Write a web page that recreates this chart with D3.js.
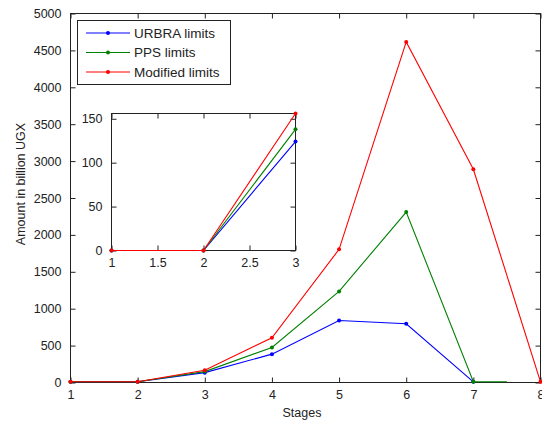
<!DOCTYPE html>
<html>
<head>
<meta charset="utf-8">
<script src="https://cdn.jsdelivr.net/npm/d3@7"></script>
<style>
  body { margin: 0; background: #fff; }
  svg { display: block; font-family: "Liberation Sans", Arial, sans-serif; }
  .tick text { fill: #222; }
</style>
</head>
<body>
<svg id="chart" width="542" height="423"></svg>
<script>
// data (billion UGX per stage), null = not plotted
const stages = [1, 2, 3, 4, 5, 6, 7, 8]
const urbra = [0, 0, 124, 375, 831, 787, 0, null]
const pps = [0, 0, 138, 465, 1225, 2300, 0, null]
const modified = [0, 0, 156, 597, 1795, 4605, 2880, 0]
const seriesNames = ["URBRA limits", "PPS limits", "Modified limits"]
const seriesColors = ["#0000ff", "#008000", "#ff0000"]
// the green trace runs on flat past stage 7 and stops halfway in the original
const ppsEnd = 7.5

const xTicks = [1, 2, 3, 4, 5, 6, 7, 8]
const yTicks = d3.range(0, 5001, 500)
const insetXTicks = [1, 1.5, 2, 2.5, 3]
const insetYTicks = [0, 50, 100, 150]

const svg = d3.select("#chart")

const toPts = vals => stages.map((s, i) => [s, vals[i]]).filter(d => d[1] !== null)
const series = [
  { name: seriesNames[0], color: seriesColors[0], pts: toPts(urbra) },
  { name: seriesNames[1], color: seriesColors[1], pts: toPts(pps).concat([[ppsEnd, 0]]) },
  { name: seriesNames[2], color: seriesColors[2], pts: toPts(modified) }
]

const drawAxes = (g, x, y, xt, yt, fmt) => {
  const [x0, x1] = x.range()
  const [y0, y1] = y.range()
  const tl = 5
  g.append("g").attr("transform", `translate(0,${y0})`)
    .call(d3.axisBottom(x).tickValues(xt).tickSize(-tl).tickPadding(8).tickFormat(fmt.x))
    .call(a => a.select(".domain").remove())
  g.append("g").attr("transform", `translate(0,${y1})`)
    .call(d3.axisTop(x).tickValues(xt).tickSize(-tl).tickFormat(""))
    .call(a => a.select(".domain").remove())
  g.append("g").attr("transform", `translate(${x0},0)`)
    .call(d3.axisLeft(y).tickValues(yt).tickSize(-tl).tickPadding(9).tickFormat(fmt.y))
    .call(a => a.select(".domain").remove())
  g.append("g").attr("transform", `translate(${x1},0)`)
    .call(d3.axisRight(y).tickValues(yt).tickSize(-tl).tickFormat(""))
    .call(a => a.select(".domain").remove())
  g.selectAll(".tick text").attr("font-size", 12.5).attr("font-family", "Liberation Sans, Arial, sans-serif")
  g.selectAll(".tick line").attr("stroke", "#222")
  g.append("rect")
    .attr("x", x0).attr("y", y1).attr("width", x1 - x0).attr("height", y0 - y1)
    .attr("fill", "none").attr("stroke", "#222").attr("stroke-width", 1)
}

const drawSeries = (g, x, y, data) => {
  const line = d3.line().x(d => x(d[0])).y(d => y(d[1]))
  data.forEach(s => {
    g.append("path").attr("d", line(s.pts))
      .attr("fill", "none").attr("stroke", s.color).attr("stroke-width", 1.1)
    g.selectAll(null).data(s.pts.filter(d => Number.isInteger(d[0]))).join("circle")
      .attr("cx", d => x(d[0])).attr("cy", d => y(d[1])).attr("r", 2)
      .attr("fill", s.color)
  })
}

// main axes
const x = d3.scaleLinear().domain([1, 8]).range([70.5, 540.5])
const y = d3.scaleLinear().domain([0, 5000]).range([382.5, 13.5])
const main = svg.append("g")
drawAxes(main, x, y, xTicks, yTicks, { x: d3.format("d"), y: d3.format("d") })
drawSeries(main.append("g").attr("transform", "translate(0,-0.7)"), x, y, series)

svg.append("text").attr("x", 302).attr("y", 417).attr("text-anchor", "middle")
  .attr("font-size", 12.5).attr("fill", "#222").text("Stages")
svg.append("text").attr("transform", "translate(25,184) rotate(-90)").attr("text-anchor", "middle")
  .attr("font-size", 12.5).attr("fill", "#222").text("Amount in billion UGX")

// legend
const leg = svg.append("g")
leg.append("rect").attr("x", 77.5).attr("y", 20.5).attr("width", 153).attr("height", 64)
  .attr("fill", "#fff").attr("stroke", "#222")
series.forEach((s, i) => {
  const ly = 33 + i * 19.5
  leg.append("line").attr("x1", 86).attr("x2", 130).attr("y1", ly).attr("y2", ly)
    .attr("stroke", s.color)
  leg.append("circle").attr("cx", 108).attr("cy", ly).attr("r", 2).attr("fill", s.color)
  leg.append("text").attr("x", 134).attr("y", ly + 4.5).attr("font-size", 13.5)
    .attr("fill", "#222").text(s.name)
})

// inset: zoom on stages 1-3
const xi = d3.scaleLinear().domain([1, 3]).range([111.5, 295.5])
const yi = d3.scaleLinear().domain([0, 156]).range([250.5, 113.5])
const inset = svg.append("g")
inset.append("rect").attr("x", 111.5).attr("y", 113.5).attr("width", 184).attr("height", 137).attr("fill", "#fff")
const insetData = series.map(s => ({ ...s, pts: s.pts.filter(d => d[0] <= 3) }))
drawAxes(inset, xi, yi, insetXTicks, insetYTicks, { x: d3.format("~g"), y: d3.format("d") })
drawSeries(inset, xi, yi, insetData)
</script>
</body>
</html>
